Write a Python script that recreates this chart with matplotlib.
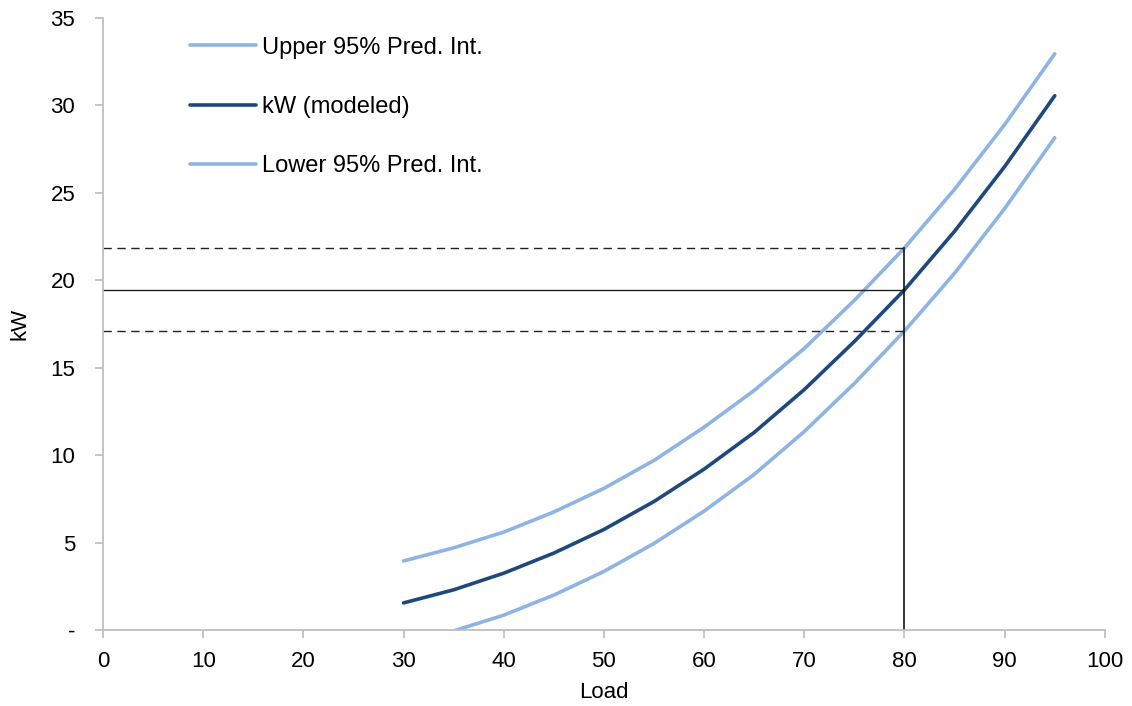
import matplotlib.pyplot as plt
from matplotlib.ticker import FuncFormatter

plt.rcParams['font.family'] = ['Liberation Sans', 'DejaVu Sans']

load = [30, 35, 40, 45, 50, 55, 60, 65, 70, 75, 80, 85, 90, 95]
kw_upper = [3.95, 4.7, 5.6, 6.75, 8.1, 9.7, 11.6, 13.7, 16.1, 18.85, 21.85, 25.2, 28.9, 32.95]
kw_model = [1.55, 2.3, 3.25, 4.4, 5.75, 7.35, 9.2, 11.3, 13.75, 16.5, 19.45, 22.8, 26.5, 30.55]
kw_lower = [-0.85, -0.05, 0.85, 2.0, 3.35, 4.95, 6.8, 8.9, 11.35, 14.1, 17.1, 20.4, 24.1, 28.15]

x_sel = 80
y_sel_model = 19.45
y_sel_upper = 21.85
y_sel_lower = 17.1

light = '#8DB4E2'
dark = '#1F497D'
grey = '#BFBFBF'

fig = plt.figure(figsize=(11.32, 7.06), dpi=100)
ax = fig.add_axes([0.091, 0.1076, 0.885, 0.867])

ax.plot(load, kw_upper, color=light, lw=2.6, label='Upper 95% Pred. Int.', solid_capstyle='round')
ax.plot(load, kw_model, color=dark, lw=2.6, label='kW (modeled)', solid_capstyle='round')
ax.plot(load, kw_lower, color=light, lw=2.6, label='Lower 95% Pred. Int.', solid_capstyle='round')

ax.plot([0, x_sel], [y_sel_upper, y_sel_upper], color='#222222', lw=1, ls=(0, (6, 4)))
ax.plot([0, x_sel], [y_sel_lower, y_sel_lower], color='#222222', lw=1, ls=(0, (6, 4)))
ax.plot([0, x_sel], [y_sel_model, y_sel_model], color='#222222', lw=1)
ax.plot([x_sel, x_sel], [0, y_sel_upper], color='#111111', lw=1.2)

ax.set_xlim(0, 100)
ax.set_ylim(0, 35)
ax.set_xticks(range(0, 101, 10))
ax.set_yticks(range(0, 36, 5))
ax.yaxis.set_major_formatter(FuncFormatter(lambda v, p: '-' if v == 0 else f'{v:g}'))

for s in ['top', 'right']:
    ax.spines[s].set_visible(False)
for s in ['left', 'bottom']:
    ax.spines[s].set_color(grey)
    ax.spines[s].set_linewidth(1.3)
ax.tick_params(direction='out', length=6, width=1.3, color=grey, labelsize=16)
ax.tick_params(axis='x', pad=9)
ax.tick_params(axis='y', pad=14)

ax.set_xlabel('Load', fontsize=16, labelpad=7)
ax.set_ylabel('kW', fontsize=16, labelpad=14)

ax.legend(loc='upper left', bbox_to_anchor=(0.066, 1.004), frameon=False, fontsize=17,
          handlelength=2.8, handletextpad=0.25, labelspacing=1.58)

fig.savefig('out.png', dpi=100)
